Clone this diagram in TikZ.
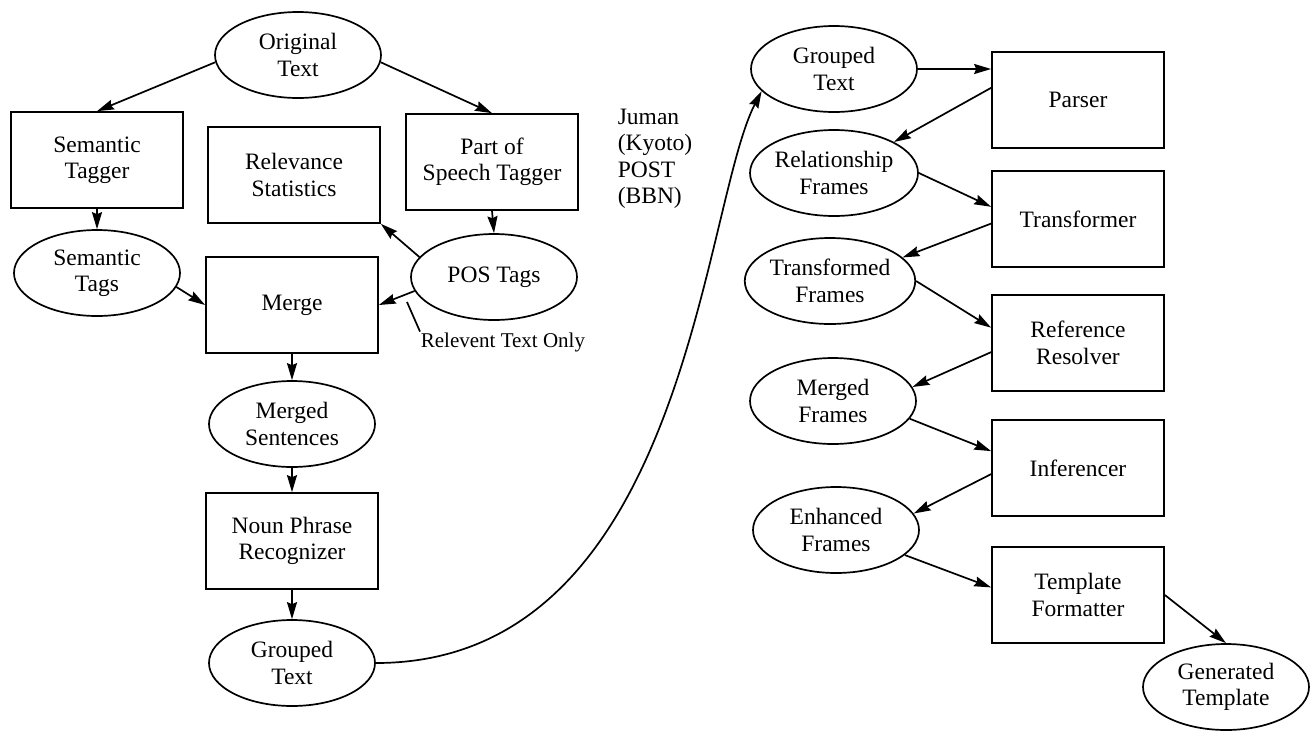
\documentclass[tikz,border=0pt]{standalone}
\usepackage{fontspec}
\setmainfont{Liberation Serif}
\usetikzlibrary{arrows.meta,shapes.geometric}
\tikzset{
  flownode/.style = {align=center, inner sep=0pt, text centered,
    font=\fontsize{23.5}{26.5}\selectfont},
  flw_box/.style = {flownode, rectangle, draw=black, line width=1.7pt,
    minimum width=172pt, minimum height=96pt},% boite de traitement
  flw_dat/.style = {flownode, ellipse, draw=black, line width=1.7pt,
    minimum width=166pt, minimum height=86pt},% donnees
  flw_txt/.style = {flownode, align=left}% texte libre
}

\begin{document}
\begin{tikzpicture}[->,>={Stealth[length=17pt,width=10pt,inset=2pt]},
  line width=1.7pt, x=1pt, y=-1pt]
\useasboundingbox (0,0) rectangle (1312,732);
% left part
\node [flw_dat] (ot) at (298,55) {Original\\Text};
\node [flw_box] (st) at (97,160) {Semantic\\Tagger};
\node [flw_box] (rs) at (294,175) {Relevance\\Statistics};
\node [flw_box] (pst) at (492,162) {Part of\\Speech Tagger};
\node [flw_dat] (stg) at (97,273) {Semantic\\Tags};
\node [flw_box] (mg) at (292,305) {Merge};
\node [flw_dat] (post) at (494,277) {POS Tags};
\node [flw_txt, font=\fontsize{21}{24}\selectfont, anchor=west] (rto)
  at (420,342) {Relevent Text Only};
\coordinate (rtp) at (407,302);
\node [flw_dat] (ms) at (292,424) {Merged\\Sentences};
\node [flw_box] (npr) at (292,541) {Noun Phrase\\Recognizer};
\node [flw_dat] (gt1) at (292,663) {Grouped\\Text};
\node [flw_txt, anchor=west] (tag) at (617,159) {Juman\\(Kyoto)\\POST\\(BBN)};
% right part
\node [flw_dat] (gt2) at (834,69) {Grouped\\Text};
\node [flw_box] (ps) at (1078,100) {Parser};
\node [flw_dat] (rf) at (834,173) {Relationship\\Frames};
\node [flw_box] (tf) at (1078,219) {Transformer};
\node [flw_dat] (tfd) at (830,281) {Transformed\\Frames};
\node [flw_box] (rr) at (1078,343) {Reference\\Resolver};
\node [flw_dat] (mfr) at (833,401) {Merged\\Frames};
\node [flw_box] (inf) at (1078,468) {Inferencer};
\node [flw_dat] (ef) at (836,530) {Enhanced\\Frames};
\node [flw_box] (tfm) at (1078,595) {Template\\Formatter};
\node [flw_dat] (gtp) at (1226,687) {Generated\\Template};

\draw (ot.185) -- (st.north);
\draw (ot.355) -- (pst.north);
\draw (st.south) -- (stg.north);
\draw (pst.south) -- (post.north);
\draw (post.165) -- (rs.south east);
\draw (post.190) -- (mg.east);
\draw (stg.350) -- (mg.west);
\draw [-] (rtp) -- (rto.north west);
\draw (mg.south) -- (ms.north);
\draw (ms.south) -- (npr.north);
\draw (npr.south) -- (gt1.north);
\draw (gt1.east) .. controls +(310,0) and +(-60,116) .. (gt2.197);

\draw (gt2.east) -- (gt2.east -| ps.west);
\draw (ps.172) -- (rf.north east);
\draw (rf.east) -- (tf.172);
\draw (tf.183) -- (tfd.18);
\draw (tfd.east) -- (rr.170);
\draw (rr.186) -- (mfr.10);
\draw (mfr.347) -- (inf.169);
\draw (inf.184) -- (ef.12);
\draw (ef.340) -- (tfm.175);
\draw (tfm.east) -- (gtp.north);
\end{tikzpicture}
\end{document}
